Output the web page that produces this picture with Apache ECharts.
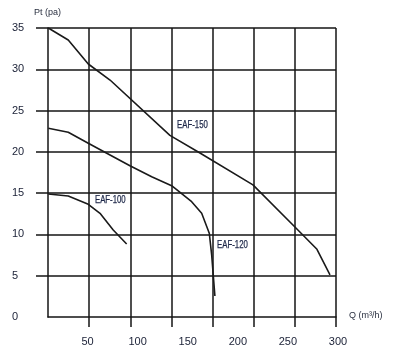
<!DOCTYPE html>
<html>
<head>
<meta charset="utf-8">
<script src="https://cdn.jsdelivr.net/npm/echarts@6/dist/echarts.min.js"></script>
<style>html,body{margin:0;padding:0;background:#fff}#c{width:393px;height:364px}</style>
</head>
<body>
<div id="c"></div>
<script>
// Tick labels
const qTickLabels = [50, 100, 150, 200, 250, 300];
const pTickLabels = [0, 5, 10, 15, 20, 25, 30, 35];
// Series values (Q in m³/h, Pt in pa)
const eaf150Q = [10.8, 30.7, 50.7, 72.4, 132.2, 162.2, 215.1, 257.0, 279.0, 292.0];
const eaf150P = [35.0, 33.55, 30.64, 28.7, 22.0, 19.86, 16.0, 10.9, 8.2, 5.1];
const eaf120Q = [10.8, 30.7, 50.7, 72.4, 92.3, 114.0, 133.9, 153.9, 163.9, 171.5, 173.9, 177.1];
const eaf120P = [22.85, 22.37, 21.04, 19.62, 18.32, 16.99, 15.9, 13.96, 12.56, 10.14, 7.5, 2.54];
const eaf100Q = [10.8, 30.7, 50.7, 62.4, 75.6, 89.0];
const eaf100P = [14.9, 14.65, 13.65, 12.56, 10.54, 8.84];
const seriesNames = ['EAF-150', 'EAF-120', 'EAF-100'];

const zip = (a, b) => a.map((v, i) => [v, b[i]]);
const gridLine = { color: '#141414', width: 1.5 };
const labelFont = 'Liberation Sans, Arial, sans-serif';

const chart = echarts.init(document.getElementById('c'), null, { renderer: 'canvas' });

function curve(name, q, p) {
  return {
    name: name, type: 'line', xAxisIndex: 1, yAxisIndex: 1,
    data: zip(q, p), symbol: 'none', smooth: false, silent: true,
    lineStyle: { color: '#1a1a1a', width: 1.6 }
  };
}

chart.setOption({
  animation: false,
  backgroundColor: '#fff',
  grid: [
    { left: 48, right: 57, top: 28, bottom: 47, containLabel: false, outerBoundsMode: 'none' },
    { left: 37.5, right: 55, top: 28, bottom: 47, containLabel: false, outerBoundsMode: 'none' }
  ],
  xAxis: [
    { type: 'value', gridIndex: 0, min: 0, max: 14, interval: 1,
      axisLine: { show: true, lineStyle: gridLine },
      axisTick: { show: true, length: 10, customValues: [2, 4, 6, 8, 10, 12, 14], lineStyle: gridLine },
      axisLabel: { show: false },
      splitLine: { show: true, lineStyle: gridLine } },
    { type: 'value', gridIndex: 1, min: 0, max: 300, interval: 50,
      axisLine: { show: false }, axisTick: { show: false }, splitLine: { show: false },
      axisLabel: { show: true, customValues: qTickLabels, margin: 19, color: '#1a2036',
                   fontSize: 11, fontFamily: labelFont } }
  ],
  yAxis: [
    { type: 'value', gridIndex: 0, min: 0, max: 35, interval: 2.5,
      axisLine: { show: true, lineStyle: gridLine },
      axisTick: { show: true, length: 12, customValues: [5, 10, 15, 20, 25, 30, 35], lineStyle: gridLine },
      axisLabel: { show: true, customValues: pTickLabels, align: 'left', margin: 36,
                   color: '#1a2036', fontSize: 11, fontFamily: labelFont },
      splitLine: { show: true, lineStyle: gridLine } },
    { type: 'value', gridIndex: 1, min: 0, max: 35,
      axisLine: { show: false }, axisTick: { show: false }, axisLabel: { show: false }, splitLine: { show: false } }
  ],
  series: [
    curve(seriesNames[0], eaf150Q, eaf150P),
    curve(seriesNames[1], eaf120Q, eaf120P),
    curve(seriesNames[2], eaf100Q, eaf100P)
  ]
});

// Curve name labels, anchored in data coordinates through the chart's own scales
const curveLabelAnchors = [[154.7, 23.25], [194.6, 8.72], [72.7, 14.09]];
const graphics = [
  { type: 'text', left: 34, top: 8, silent: true,
    style: { text: 'Pt (pa)', fill: '#2a3040', font: '9px ' + labelFont } },
  { type: 'text', left: 349, top: 311, silent: true,
    style: { text: 'Q (m³/h)', fill: '#2a3040', font: '9px ' + labelFont } }
];
seriesNames.forEach((n, i) => {
  const px = chart.convertToPixel({ xAxisIndex: 1, yAxisIndex: 1 }, curveLabelAnchors[i]);
  graphics.push({
    type: 'text', x: px[0], y: px[1], scaleX: 0.78, silent: true,
    style: { text: n, fill: '#1d2748', font: '10px ' + labelFont, align: 'center', verticalAlign: 'middle',
             stroke: '#1d2748', lineWidth: 0.25 }
  });
});
chart.setOption({ graphic: graphics });
</script>
</body>
</html>
